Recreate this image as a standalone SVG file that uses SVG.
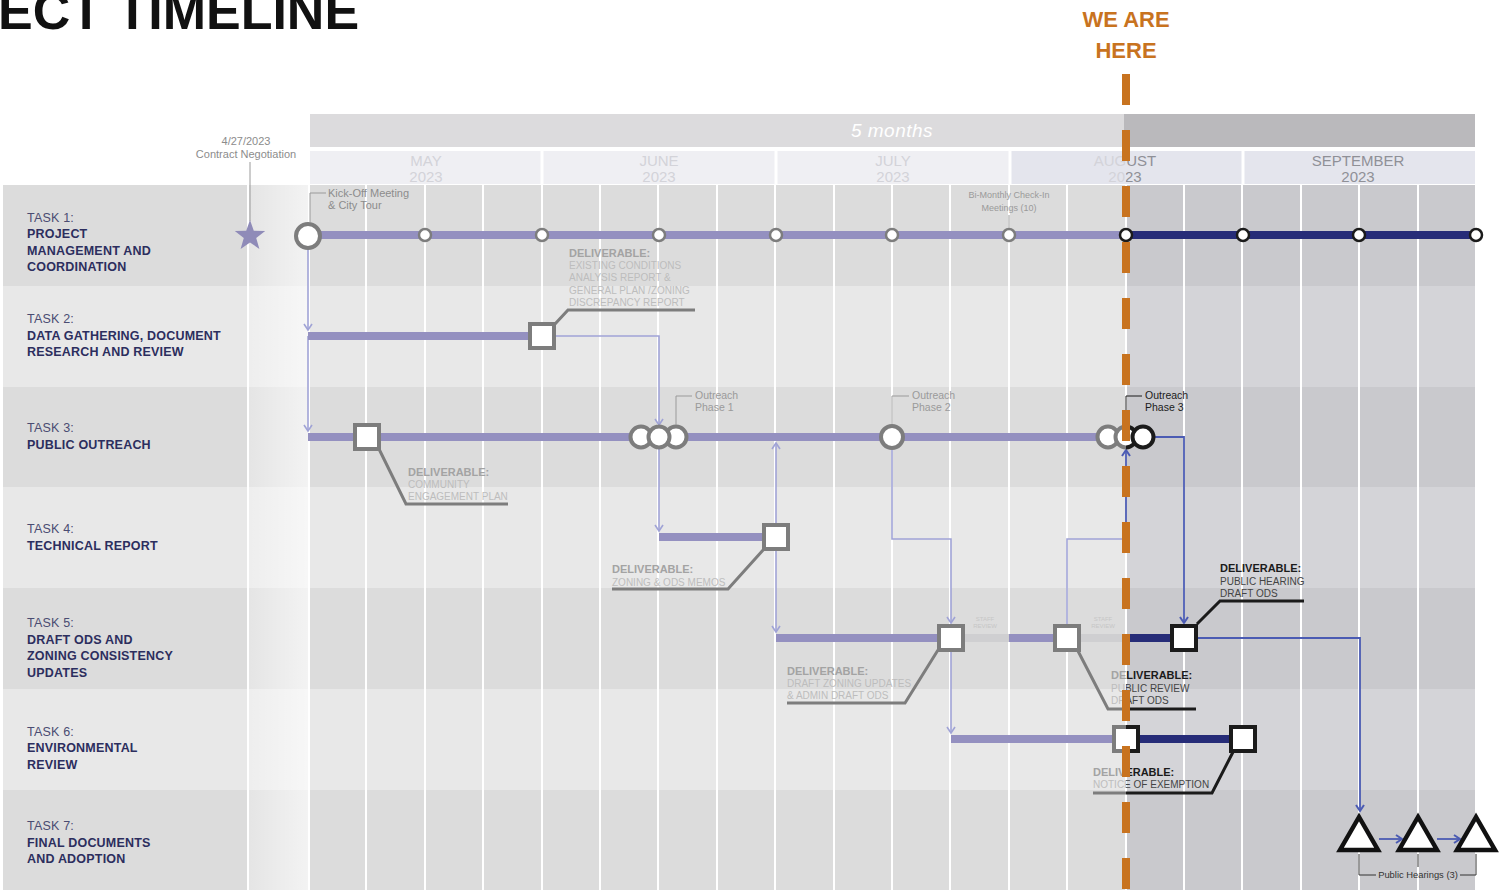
<svg xmlns="http://www.w3.org/2000/svg" width="1499" height="892" viewBox="0 0 1499 892">
<style>
text{font-family:"Liberation Sans",Arial,sans-serif}
.title{font-weight:bold;font-size:52px;fill:#111}
.here{font-weight:bold;font-size:22px;fill:#c8731f;text-anchor:middle}
.mon{font-size:15px;text-anchor:middle;fill:#d3d3d9}
.monD{fill:#8f9097}
.span{font-style:italic;font-size:19px;fill:#fff;text-anchor:middle;letter-spacing:.5px}
.tn{font-size:12.5px;fill:#4a4c72;letter-spacing:.2px}
.tt{font-size:12.5px;font-weight:bold;fill:#2c2e5e;letter-spacing:.2px}
.sm{font-size:11px;fill:#8c8c8c}
.smc{font-size:11px;fill:#8c8c8c;text-anchor:middle}
.xs{font-size:9px;fill:#9a9a9a;text-anchor:middle}
.ol{font-size:10.5px;fill:#9a9a9a}
.olK{font-size:10.5px;fill:#1b1b1b}
.dh{font-size:11px;font-weight:bold;fill:#a3a3a3}
.db{font-size:10px;fill:#bdbdbd}
.dhK{font-size:11px;font-weight:bold;fill:#1b1b1b}
.dbK{font-size:10px;fill:#444}
.lead{fill:none;stroke:#7d7d7d;stroke-width:3}
.leadK{fill:none;stroke:#1b1b1b;stroke-width:3}
.bar{stroke:#9490c0;stroke-width:8;fill:none}
.barN{stroke:#262c78;stroke-width:8;fill:none}
.barG{stroke:#cfcfd1;stroke-width:8;fill:none}
.sq{fill:#fff;stroke:#7d7d7d;stroke-width:4}
.sqK{fill:#fff;stroke:#1b1b1b;stroke-width:4}
.ci{fill:#fff;stroke:#7d7d7d;stroke-width:4}
.ciK{fill:#fff;stroke:#1b1b1b;stroke-width:4}
.cs{fill:#fff;stroke:#7d7d7d;stroke-width:2.5}
.csK{fill:#fff;stroke:#1b1b1b;stroke-width:2.5}
.cn{fill:none;stroke:#a0a3d6;stroke-width:1.6}
.cnB{fill:none;stroke:#4b5bb3;stroke-width:1.8}
.br{fill:none;stroke:#9a9a9a;stroke-width:1}
.brK{fill:none;stroke:#1b1b1b;stroke-width:1}
.wk{stroke:#fff;stroke-width:2}
.staff{font-size:6px;fill:#c6c6c6;text-anchor:middle}
.rD{fill:#dcdcdc}
.rL{fill:#e8e8e8}
.rDR{fill:#c9c9cd}
.rLR{fill:#d4d4d8}
.tri{fill:#fff;stroke:#111;stroke-width:4.5;stroke-linejoin:miter}
.ph{font-size:9.4px;fill:#333;text-anchor:middle}
</style>
<defs>
<marker id="aL" viewBox="-8 -5 10 10" refX="0" refY="0" markerWidth="10" markerHeight="10" markerUnits="userSpaceOnUse" orient="auto"><path d="M-6,-4 L0,0 L-6,4" fill="none" stroke="#a0a3d6" stroke-width="1.6"/></marker>
<marker id="aB" viewBox="-8 -5 10 10" refX="0" refY="0" markerWidth="10" markerHeight="10" markerUnits="userSpaceOnUse" orient="auto"><path d="M-6,-4 L0,0 L-6,4" fill="none" stroke="#4b5bb3" stroke-width="2"/></marker>
<clipPath id="cL"><rect x="0" y="0" width="1126" height="892"/></clipPath>
<clipPath id="cR"><rect x="1126" y="0" width="373" height="892"/></clipPath>
<linearGradient id="fade" x1="0" x2="1" y1="0" y2="0"><stop offset="0" stop-color="#fff" stop-opacity="0"/><stop offset="1" stop-color="#fff" stop-opacity="0.55"/></linearGradient>
</defs>
<rect width="1499" height="892" fill="#fff"/>
<g id="title"><text class="title" x="-2" y="29">ECT TIMELINE</text></g>

<g id="grid">
<rect x="310" y="114" width="814" height="33" fill="#dcdbdd"/>
<rect x="1124" y="114" width="351" height="33" fill="#bab9bc"/>
<text class="span" x="892" y="137">5 months</text>
<rect x="310" y="151" width="700" height="33" fill="#efeff3"/>
<rect x="1010" y="151" width="465" height="33" fill="#e4e5ed"/>
<g stroke="#fff" stroke-width="3"><line x1="542" y1="151" x2="542" y2="184"/><line x1="776" y1="151" x2="776" y2="184"/><line x1="1010" y1="151" x2="1010" y2="184"/><line x1="1243" y1="151" x2="1243" y2="184"/></g>
<text class="mon" x="426" y="166">MAY</text><text class="mon" x="426" y="182">2023</text>
<text class="mon" x="659" y="166">JUNE</text><text class="mon" x="659" y="182">2023</text>
<text class="mon" x="893" y="166">JULY</text><text class="mon" x="893" y="182">2023</text>
<g clip-path="url(#cL)"><text class="mon" x="1125" y="166">AUGUST</text><text class="mon" x="1125" y="182">2023</text></g>
<g clip-path="url(#cR)"><text class="mon monD" x="1125" y="166">AUGUST</text><text class="mon monD" x="1125" y="182">2023</text></g>
<text class="mon monD" x="1358" y="166">SEPTEMBER</text><text class="mon monD" x="1358" y="182">2023</text>

<rect class="rD" x="3" y="185" width="1123" height="101"/><rect class="rDR" x="1126" y="185" width="349" height="101"/>
<rect class="rL" x="3" y="286" width="1123" height="101"/><rect class="rLR" x="1126" y="286" width="349" height="101"/>
<rect class="rD" x="3" y="387" width="1123" height="100"/><rect class="rDR" x="1126" y="387" width="349" height="100"/>
<rect class="rL" x="3" y="487" width="1123" height="101"/><rect class="rLR" x="1126" y="487" width="349" height="101"/>
<rect class="rD" x="3" y="588" width="1123" height="101"/><rect class="rDR" x="1126" y="588" width="349" height="101"/>
<rect class="rL" x="3" y="689" width="1123" height="101"/><rect class="rLR" x="1126" y="689" width="349" height="101"/>
<rect class="rD" x="3" y="790" width="1123" height="100"/><rect class="rDR" x="1126" y="790" width="349" height="100"/>
<rect x="249" y="185" width="60" height="705" fill="#fff" opacity="0.25"/>
<rect x="249" y="185" width="60" height="705" fill="url(#fade)"/>
<g class="wk">
<line x1="248" y1="185" x2="248" y2="890"/><line x1="309" y1="185" x2="309" y2="890"/>
<line x1="366" y1="185" x2="366" y2="890"/><line x1="425" y1="185" x2="425" y2="890"/>
<line x1="483" y1="185" x2="483" y2="890"/><line x1="542" y1="185" x2="542" y2="890"/>
<line x1="600" y1="185" x2="600" y2="890"/><line x1="658" y1="185" x2="658" y2="890"/>
<line x1="717" y1="185" x2="717" y2="890"/><line x1="775" y1="185" x2="775" y2="890"/>
<line x1="834" y1="185" x2="834" y2="890"/><line x1="892" y1="185" x2="892" y2="890"/>
<line x1="950" y1="185" x2="950" y2="890"/><line x1="1009" y1="185" x2="1009" y2="890"/>
<line x1="1067" y1="185" x2="1067" y2="890"/><line x1="1126" y1="185" x2="1126" y2="890"/>
<line x1="1184" y1="185" x2="1184" y2="890"/><line x1="1242" y1="185" x2="1242" y2="890"/>
<line x1="1301" y1="185" x2="1301" y2="890"/><line x1="1359" y1="185" x2="1359" y2="890"/>
<line x1="1418" y1="185" x2="1418" y2="890"/>
</g>
</g>

<g id="labels">
<g id="label1"><text class="tn" x="27" y="222">TASK 1:</text><text class="tt" x="27" y="238">PROJECT</text><text class="tt" x="27" y="255">MANAGEMENT AND</text><text class="tt" x="27" y="271">COORDINATION</text></g>
<g id="label2"><text class="tn" x="27" y="323">TASK 2:</text><text class="tt" x="27" y="340">DATA GATHERING, DOCUMENT</text><text class="tt" x="27" y="356">RESEARCH AND REVIEW</text></g>
<g id="label3"><text class="tn" x="27" y="432">TASK 3:</text><text class="tt" x="27" y="449">PUBLIC OUTREACH</text></g>
<g id="label4"><text class="tn" x="27" y="533">TASK 4:</text><text class="tt" x="27" y="550">TECHNICAL REPORT</text></g>
<g id="label5"><text class="tn" x="27" y="627">TASK 5:</text><text class="tt" x="27" y="644">DRAFT ODS AND</text><text class="tt" x="27" y="660">ZONING CONSISTENCY</text><text class="tt" x="27" y="677">UPDATES</text></g>
<g id="label6"><text class="tn" x="27" y="736">TASK 6:</text><text class="tt" x="27" y="752">ENVIRONMENTAL</text><text class="tt" x="27" y="769">REVIEW</text></g>
<g id="label7"><text class="tn" x="27" y="830">TASK 7:</text><text class="tt" x="27" y="847">FINAL DOCUMENTS</text><text class="tt" x="27" y="863">AND ADOPTION</text></g>
</g>

<g id="connectors">
<path class="cn" d="M308,248 V330" marker-end="url(#aL)"/>
<path class="cn" d="M308,336 V431" marker-end="url(#aL)"/>
<path class="cn" d="M556,336 H659 V425" marker-end="url(#aL)"/>
<path class="cn" d="M659,449 V531" marker-end="url(#aL)"/>
<path class="cn" d="M776,523 V443" marker-end="url(#aL)"/>
<path class="cn" d="M776,551 V632" marker-end="url(#aL)"/>
<path class="cn" d="M892,450 V539 H951 V623" marker-end="url(#aL)"/>
<path class="cn" d="M951,652 V733" marker-end="url(#aL)"/>
<path class="cn" d="M1067,624 V539 H1126"/>
<path class="cnB" d="M1126,539 V450" marker-end="url(#aB)"/>
<path class="cnB" d="M1154,437 H1184 V623" marker-end="url(#aB)"/>
<path class="cnB" d="M1198,638 H1360 V811" marker-end="url(#aB)"/>
<path class="cnB" d="M1379,839 H1402" marker-end="url(#aB)"/>
<path class="cnB" d="M1437,839 H1460" marker-end="url(#aB)"/>
</g>

<g id="contract">
<text class="smc" x="246" y="145">4/27/2023</text>
<text class="smc" x="246" y="158">Contract Negotiation</text>
<line x1="250" y1="162" x2="250" y2="221" stroke="#9a9a9a" stroke-width="1"/>
<polygon points="250,220 253.8,230.7 265.2,231.1 256.2,238 259.4,248.9 250,242.5 240.6,248.9 243.8,238 234.8,231.1 246.2,230.7" fill="#8f8bb8"/>
</g>

<g id="task1">
<line class="bar" x1="308" y1="235" x2="1126" y2="235"/>
<line class="barN" x1="1126" y1="235" x2="1476" y2="235"/>
<circle class="ci" cx="308" cy="236" r="12"/>
<circle class="cs" cx="425" cy="235" r="6"/>
<circle class="cs" cx="542" cy="235" r="6"/>
<circle class="cs" cx="659" cy="235" r="6"/>
<circle class="cs" cx="776" cy="235" r="6"/>
<circle class="cs" cx="892" cy="235" r="6"/>
<circle class="cs" cx="1009" cy="235" r="6"/>
<circle class="csK" cx="1126" cy="235" r="6"/>
<circle class="csK" cx="1243" cy="235" r="6"/>
<circle class="csK" cx="1359" cy="235" r="6"/>
<circle class="csK" cx="1476" cy="235" r="6"/>
<path class="br" d="M310,222 V193 H326"/>
<text class="sm" x="328" y="197">Kick-Off Meeting</text>
<text class="sm" x="328" y="209">&amp; City Tour</text>
<text class="xs" x="1009" y="198">Bi-Monthly Check-In</text>
<text class="xs" x="1009" y="211">Meetings (10)</text>
<line x1="1009" y1="215" x2="1009" y2="228" stroke="#9a9a9a" stroke-width="1"/>
</g>

<g id="task2">
<line class="bar" x1="308" y1="336" x2="530" y2="336"/>
<path class="lead" d="M555,324 L568,310 H695"/>
<rect class="sq" x="530" y="324" width="24" height="24"/>
<text class="dh" x="569" y="257">DELIVERABLE:</text>
<text class="db" x="569" y="269">EXISTING CONDITIONS</text>
<text class="db" x="569" y="281">ANALYSIS REPORT &amp;</text>
<text class="db" x="569" y="294">GENERAL PLAN /ZONING</text>
<text class="db" x="569" y="306">DISCREPANCY REPORT</text>
</g>

<g id="task3">
<line class="bar" x1="308" y1="437" x2="1126" y2="437"/>
<path class="lead" d="M379,449 L406,504 H508"/>
<rect class="sq" x="355" y="425" width="24" height="24"/>
<text class="dh" x="408" y="476">DELIVERABLE:</text>
<text class="db" x="408" y="488">COMMUNITY</text>
<text class="db" x="408" y="500">ENGAGEMENT PLAN</text>
<circle class="ci" cx="641" cy="437" r="10.5"/>
<circle class="ci" cx="676" cy="437" r="10.5"/>
<circle class="ci" cx="659" cy="437" r="10.5"/>
<path class="br" d="M676,425 V396 H692"/>
<text class="ol" x="695" y="399">Outreach</text>
<text class="ol" x="695" y="411">Phase 1</text>
<circle class="ci" cx="892" cy="437" r="11"/>
<path class="br" d="M892,424 V396 H909"/>
<text class="ol" x="912" y="399">Outreach</text>
<text class="ol" x="912" y="411">Phase 2</text>
<circle class="ci" cx="1108" cy="437" r="10.5"/>
<g clip-path="url(#cL)"><circle class="ci" cx="1126" cy="437" r="10.5"/></g>
<g clip-path="url(#cR)"><circle class="ciK" cx="1126" cy="437" r="10.5"/></g>
<circle class="ciK" cx="1143" cy="437" r="10.5"/>
<path class="brK" d="M1126,425 V396 H1142"/>
<text class="olK" x="1145" y="399">Outreach</text>
<text class="olK" x="1145" y="411">Phase 3</text>
</g>

<g id="task4">
<line class="bar" x1="659" y1="537" x2="764" y2="537"/>
<path class="lead" d="M764,549 L728,589 H612"/>
<rect class="sq" x="764" y="525" width="24" height="24"/>
<text class="dh" x="612" y="573">DELIVERABLE:</text>
<text class="db" x="612" y="586">ZONING &amp; ODS MEMOS</text>
</g>

<g id="task5">
<line class="bar" x1="776" y1="638" x2="939" y2="638"/>
<line class="barG" x1="963" y1="638" x2="1009" y2="638"/>
<line class="bar" x1="1009" y1="638" x2="1055" y2="638"/>
<line class="barG" x1="1079" y1="638" x2="1126" y2="638"/>
<line class="barN" x1="1126" y1="638" x2="1172" y2="638"/>
<text class="staff" x="985" y="621">STAFF</text><text class="staff" x="985" y="628">REVIEW</text>
<text class="staff" x="1103" y="621">STAFF</text><text class="staff" x="1103" y="628">REVIEW</text>
<path class="lead" d="M938,650 L905,703 H787"/>
<rect class="sq" x="939" y="626" width="24" height="24"/>
<text class="dh" x="787" y="675">DELIVERABLE:</text>
<text class="db" x="787" y="687">DRAFT ZONING UPDATES</text>
<text class="db" x="787" y="699">&amp; ADMIN DRAFT ODS</text>
<g clip-path="url(#cL)">
<path class="lead" d="M1078,651 L1108,709 H1196"/>
<text class="dh" x="1111" y="679">DELIVERABLE:</text>
<text class="db" x="1111" y="692">PUBLIC REVIEW</text>
<text class="db" x="1111" y="704">DRAFT ODS</text>
</g>
<g clip-path="url(#cR)">
<path class="leadK" d="M1078,651 L1108,709 H1196"/>
<text class="dhK" x="1111" y="679">DELIVERABLE:</text>
<text class="dbK" x="1111" y="692">PUBLIC REVIEW</text>
<text class="dbK" x="1111" y="704">DRAFT ODS</text>
</g>
<rect class="sq" x="1055" y="626" width="24" height="24"/>
<path class="leadK" d="M1197,624 L1220,601 H1304"/>
<rect class="sqK" x="1172" y="626" width="24" height="24"/>
<text class="dhK" x="1220" y="572">DELIVERABLE:</text>
<text class="dbK" x="1220" y="585">PUBLIC HEARING</text>
<text class="dbK" x="1220" y="597">DRAFT ODS</text>
</g>

<g id="task6">
<line class="bar" x1="951" y1="739" x2="1114" y2="739"/>
<line class="barN" x1="1138" y1="739" x2="1231" y2="739"/>
<g clip-path="url(#cL)"><rect class="sq" x="1114" y="727" width="24" height="24"/>
<path class="lead" d="M1233,752 L1212,793 H1093"/>
<text class="dh" x="1093" y="776">DELIVERABLE:</text>
<text class="db" x="1093" y="788">NOTICE OF EXEMPTION</text></g>
<g clip-path="url(#cR)"><rect class="sqK" x="1114" y="727" width="24" height="24"/>
<path class="leadK" d="M1233,752 L1212,793 H1093"/>
<text class="dhK" x="1093" y="776">DELIVERABLE:</text>
<text class="dbK" x="1093" y="788">NOTICE OF EXEMPTION</text></g>
<rect class="sqK" x="1231" y="727" width="24" height="24"/>
</g>

<g id="task7">
<polygon class="tri" points="1359,817 1340,850 1378,850"/>
<polygon class="tri" points="1418,817 1399,850 1437,850"/>
<polygon class="tri" points="1476,817 1457,850 1495,850"/>
<path fill="none" stroke="#333" stroke-width="1" d="M1359,854 V875 H1376 M1460,875 H1476 V854 M1418,854 V867"/>
<text class="ph" x="1418" y="878">Public Hearings (3)</text>
</g>

<g id="here">
<text class="here" x="1126" y="27">WE ARE</text>
<text class="here" x="1126" y="58">HERE</text>
<line x1="1126" y1="74" x2="1126" y2="892" stroke="#c8731f" stroke-width="8" stroke-dasharray="31 25"/>
</g>
</svg>
